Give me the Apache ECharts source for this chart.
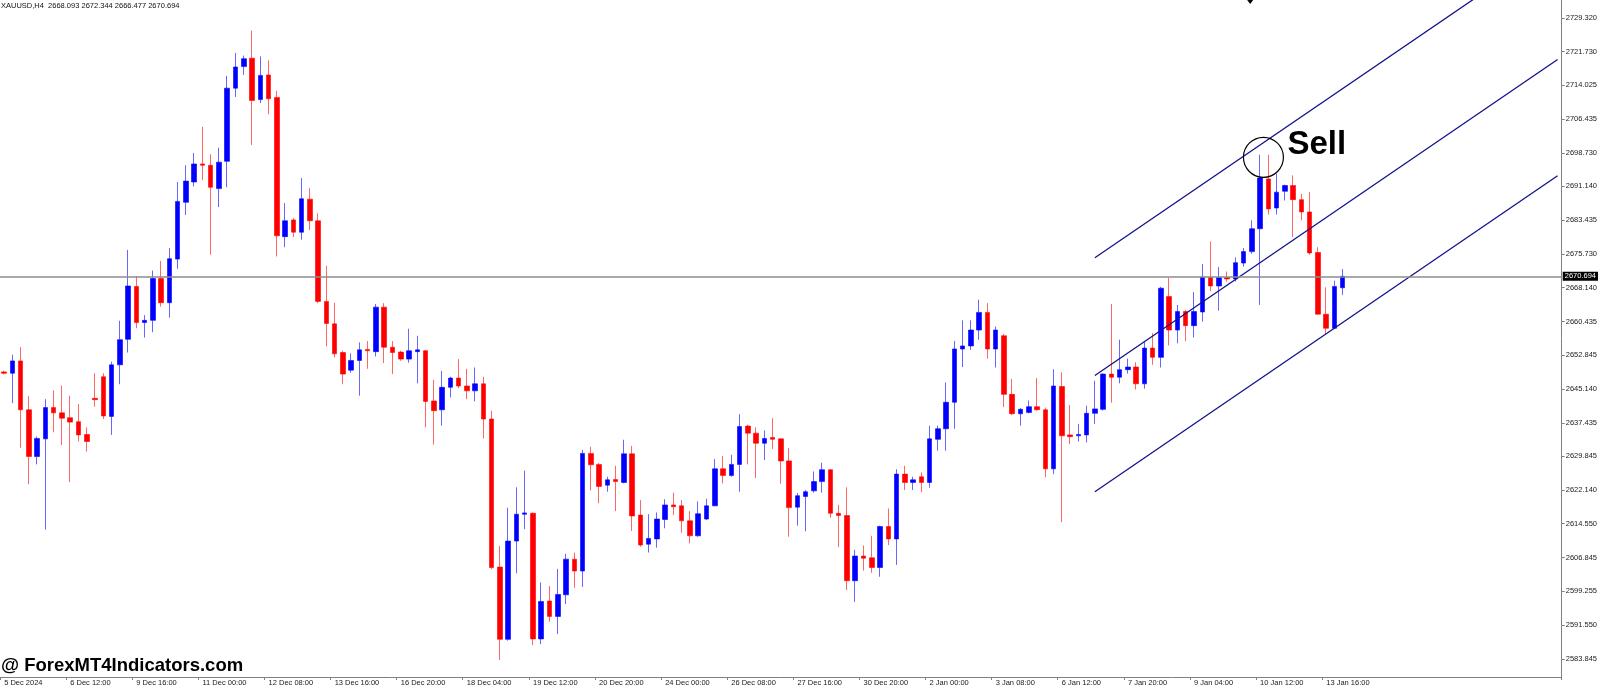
<!DOCTYPE html>
<html>
<head>
<meta charset="utf-8">
<title>XAUUSD,H4</title>
<style>
  html, body { margin: 0; padding: 0; background: #fff; }
  #main { width: 1600px; height: 688px; }
</style>
</head>
<body>
<div id="main"></div>
<script src="https://cdn.jsdelivr.net/npm/echarts@6/dist/echarts.min.js"></script>
<script>
// 4H bars, 5 Dec 2024 -> 14 Jan 2025
var open = [
  2649.0, 2648.7, 2651.5, 2640.4, 2629.8, 2633.8, 2640.9, 2639.7, 2638.6, 2637.7,
  2634.8, 2643.0, 2647.9, 2638.9, 2650.6, 2656.4, 2668.4, 2660.2, 2660.7, 2670.2,
  2664.7, 2674.6, 2687.5, 2692.1, 2696.2, 2695.9, 2690.6, 2696.8, 2713.4, 2718.3,
  2720.2, 2710.8, 2716.4, 2711.3, 2679.7, 2683.5, 2680.7, 2688.2, 2683.3, 2665.0,
  2659.9, 2653.4, 2649.4, 2651.6, 2654.1, 2653.6, 2663.7, 2654.6, 2653.5, 2651.9,
  2653.6, 2653.8, 2642.4, 2640.4, 2645.5, 2647.6, 2645.8, 2644.7, 2646.3, 2638.3,
  2604.7, 2588.3, 2610.6, 2616.7, 2616.9, 2588.4, 2597.0, 2593.5, 2598.4, 2606.5,
  2603.8, 2630.5, 2628.0, 2623.3, 2624.6, 2623.9, 2630.4, 2616.5, 2609.9, 2611.1,
  2615.5, 2618.8, 2618.6, 2615.2, 2611.8, 2615.6, 2618.6, 2627.0, 2625.5, 2628.0,
  2636.7, 2635.1, 2632.8, 2634.1, 2633.8, 2628.8, 2618.3, 2620.7, 2622.0, 2624.1,
  2626.8, 2616.9, 2616.4, 2601.6, 2607.2, 2606.8, 2604.6, 2613.9, 2611.1, 2625.8,
  2623.9, 2625.2, 2623.9, 2633.7, 2636.1, 2642.1, 2654.2, 2654.9, 2658.5, 2662.5,
  2654.2, 2657.2, 2643.9, 2639.5, 2639.8, 2641.1, 2640.4, 2627.0, 2645.7, 2634.7,
  2634.5, 2634.7, 2639.6, 2640.5, 2648.5, 2647.8, 2649.5, 2650.1, 2646.3, 2654.4,
  2652.3, 2666.1, 2658.5, 2662.7, 2659.5, 2662.6, 2670.4, 2668.5, 2670.4, 2670.1,
  2673.7, 2676.3, 2681.5, 2692.8, 2686.2, 2690.0, 2691.3, 2688.1, 2685.3, 2676.1,
  2662.1, 2658.9, 2668.093
];
var high = [
  2649.3, 2652.9, 2654.6, 2643.5, 2634.3, 2642.8, 2644.8, 2645.9, 2643.6, 2641.7,
  2636.4, 2648.7, 2648.7, 2651.3, 2660.6, 2676.7, 2670.8, 2661.9, 2672.0, 2674.2,
  2677.1, 2692.1, 2695.9, 2698.7, 2704.6, 2698.4, 2699.9, 2716.2, 2721.4, 2720.8,
  2726.5, 2720.6, 2719.7, 2712.8, 2687.3, 2683.9, 2693.0, 2690.7, 2685.0, 2673.1,
  2664.7, 2653.8, 2653.2, 2655.7, 2656.0, 2664.4, 2664.6, 2656.0, 2653.8, 2658.8,
  2657.2, 2654.0, 2647.2, 2649.2, 2647.9, 2651.9, 2649.7, 2650.0, 2647.9, 2640.2,
  2609.5, 2618.2, 2622.8, 2626.6, 2617.1, 2601.2, 2600.4, 2604.3, 2607.7, 2608.0,
  2631.3, 2632.0, 2628.3, 2625.2, 2627.7, 2633.6, 2632.2, 2619.9, 2616.7, 2617.1,
  2620.1, 2621.6, 2619.9, 2617.4, 2619.6, 2620.2, 2629.2, 2629.9, 2630.2, 2639.4,
  2637.0, 2636.4, 2635.7, 2638.5, 2633.9, 2631.7, 2621.5, 2622.2, 2626.4, 2628.4,
  2626.9, 2618.8, 2622.8, 2608.6, 2609.6, 2611.8, 2614.1, 2618.0, 2626.9, 2627.7,
  2625.2, 2626.2, 2636.8, 2636.8, 2646.6, 2656.0, 2660.7, 2660.7, 2665.4, 2664.6,
  2659.3, 2657.6, 2647.4, 2640.8, 2642.5, 2647.6, 2640.9, 2649.6, 2648.9, 2641.5,
  2637.2, 2641.3, 2647.0, 2648.7, 2664.4, 2656.3, 2652.0, 2651.2, 2655.9, 2657.8,
  2668.3, 2670.3, 2664.2, 2663.1, 2667.1, 2673.5, 2678.6, 2672.8, 2671.8, 2675.0,
  2677.1, 2683.4, 2698.3, 2698.3, 2694.0, 2691.5, 2693.6, 2689.4, 2689.8, 2677.3,
  2668.2, 2669.7, 2672.344
];
var low = [
  2648.4, 2641.9, 2631.8, 2623.5, 2628.0, 2613.2, 2635.3, 2632.4, 2624.0, 2633.2,
  2630.9, 2641.1, 2638.3, 2634.7, 2646.2, 2653.4, 2658.9, 2656.8, 2658.0, 2663.8,
  2661.3, 2672.4, 2684.6, 2691.1, 2692.5, 2675.6, 2686.4, 2690.9, 2711.4, 2716.4,
  2700.5, 2710.0, 2707.5, 2675.2, 2677.3, 2679.6, 2679.0, 2681.2, 2664.6, 2654.8,
  2652.3, 2646.2, 2648.8, 2643.6, 2649.7, 2652.5, 2651.0, 2648.5, 2651.5, 2651.1,
  2646.4, 2636.4, 2632.5, 2636.8, 2643.2, 2645.3, 2642.8, 2642.3, 2633.9, 2604.2,
  2583.6, 2588.0, 2603.3, 2613.3, 2587.0, 2587.2, 2592.3, 2589.5, 2596.3, 2600.0,
  2600.2, 2622.1, 2619.2, 2621.8, 2617.4, 2623.7, 2612.9, 2609.3, 2608.0, 2609.1,
  2613.5, 2616.5, 2612.5, 2610.1, 2611.6, 2615.4, 2618.5, 2623.7, 2625.2, 2621.8,
  2628.0, 2624.9, 2629.0, 2631.5, 2623.6, 2611.6, 2614.1, 2612.8, 2621.6, 2621.6,
  2615.9, 2609.2, 2599.5, 2596.8, 2603.9, 2603.4, 2602.5, 2609.7, 2605.2, 2622.2,
  2622.2, 2621.7, 2622.7, 2631.1, 2631.1, 2636.1, 2650.1, 2654.0, 2656.3, 2652.0,
  2650.0, 2641.0, 2639.2, 2636.8, 2639.6, 2640.2, 2625.1, 2625.8, 2614.9, 2632.6,
  2633.2, 2633.0, 2637.2, 2640.2, 2642.0, 2646.4, 2648.6, 2645.0, 2645.2, 2650.6,
  2650.0, 2655.0, 2655.5, 2656.0, 2656.8, 2660.4, 2667.3, 2662.9, 2669.5, 2669.5,
  2672.9, 2675.8, 2664.2, 2684.7, 2684.7, 2687.9, 2679.6, 2683.4, 2675.6, 2662.0,
  2657.4, 2658.7, 2666.477
];
var close = [
  2648.7, 2651.5, 2640.4, 2629.8, 2633.9, 2640.9, 2639.7, 2638.5, 2637.6, 2634.7,
  2633.2, 2642.7, 2639.0, 2650.6, 2656.3, 2668.5, 2660.2, 2660.7, 2670.2, 2664.7,
  2674.7, 2687.7, 2692.3, 2696.2, 2695.9, 2690.9, 2696.6, 2713.4, 2718.2, 2720.1,
  2710.6, 2716.3, 2711.0, 2679.9, 2683.3, 2680.7, 2688.3, 2683.3, 2665.0, 2660.0,
  2653.1, 2648.5, 2651.6, 2654.0, 2653.8, 2663.7, 2654.6, 2653.4, 2651.9, 2653.8,
  2654.0, 2642.3, 2640.2, 2645.5, 2647.6, 2645.8, 2644.7, 2646.3, 2638.3, 2604.6,
  2588.3, 2610.6, 2616.7, 2617.0, 2588.4, 2596.9, 2593.5, 2598.5, 2606.5, 2603.8,
  2630.5, 2627.9, 2623.0, 2624.5, 2624.1, 2630.4, 2616.3, 2609.7, 2611.2, 2615.6,
  2618.8, 2618.4, 2615.2, 2611.8, 2616.8, 2618.6, 2627.0, 2625.5, 2628.0, 2636.6,
  2635.1, 2632.8, 2633.9, 2633.7, 2628.8, 2618.2, 2620.9, 2621.8, 2624.1, 2626.8,
  2616.9, 2616.4, 2601.6, 2607.2, 2606.7, 2604.6, 2613.9, 2611.1, 2625.8, 2623.9,
  2624.5, 2623.9, 2633.8, 2636.1, 2642.1, 2654.2, 2654.9, 2658.5, 2662.5, 2654.2,
  2658.5, 2643.9, 2639.5, 2640.5, 2641.1, 2640.4, 2627.0, 2645.8, 2634.5, 2634.3,
  2634.8, 2639.6, 2640.6, 2648.5, 2647.8, 2649.5, 2650.1, 2646.3, 2654.4, 2652.3,
  2668.0, 2658.5, 2662.7, 2659.5, 2662.7, 2670.5, 2668.5, 2670.4, 2670.1, 2673.8,
  2676.3, 2681.5, 2693.0, 2686.0, 2689.8, 2691.3, 2688.1, 2685.3, 2676.0, 2662.1,
  2658.9, 2668.4, 2670.694
];

// time scale labels (bar index -> text)
var tickBars = [0, 8, 16, 24, 32, 40, 48, 56, 64, 72, 80, 88, 96, 104, 112, 120, 128, 136, 144, 152, 160];
var tickLabels = ['5 Dec 2024', '6 Dec 12:00', '9 Dec 16:00', '11 Dec 00:00', '12 Dec 08:00',
  '13 Dec 16:00', '16 Dec 20:00', '18 Dec 04:00', '19 Dec 12:00', '20 Dec 20:00',
  '24 Dec 00:00', '26 Dec 08:00', '27 Dec 16:00', '30 Dec 20:00', '2 Jan 00:00',
  '3 Jan 08:00', '6 Jan 12:00', '7 Jan 20:00', '9 Jan 04:00', '10 Jan 12:00', '13 Jan 16:00'];

// price scale labels
var priceTicks = [2729.320, 2721.730, 2714.025, 2706.435, 2698.730, 2691.140, 2683.435,
  2675.730, 2668.140, 2660.435, 2652.845, 2645.140, 2637.435, 2629.845, 2622.140,
  2614.550, 2606.845, 2599.255, 2591.550, 2583.845];

// price channel: [startBar, startPrice], [endBar, endPrice]
var channelTop = [[132, 2674.9], [188, 2746.6]];
var channelMid = [[132, 2648.2], [188, 2719.9]];
var channelBot = [[132, 2621.8], [188, 2693.5]];

// "Sell" marker
var sellMark = { bar: 152.4, price: 2697.7 };
var arrowBar = 150.8;

var shiftBars = 26;   // empty space on the right (chart shift)
var cats = [];
for (var i = 0; i < open.length + shiftBars; i++) cats.push(String(i));

var candles = open.map(function (o, i) { return [o, close[i], low[i], high[i]]; });
var last = open.length - 1;
var font = 'Liberation Sans, Arial, sans-serif';

function channelSeries(pts) {
  return {
    type: 'line', data: pts, showSymbol: false, silent: true, clip: true,
    lineStyle: { color: '#12128a', width: 1.3 }, z: 3
  };
}

var option = {
  animation: false,
  backgroundColor: '#ffffff',
  grid: { left: -5.5, right: 36, top: 0, bottom: 11 },
  xAxis: {
    type: 'category',
    data: cats,
    boundaryGap: true,
    axisLine: { show: true, lineStyle: { color: '#808080', width: 1 } },
    axisTick: {
      show: true, length: 3, lineStyle: { color: '#808080' },
      interval: function (idx) { return tickBars.indexOf(idx) >= 0; }
    },
    axisLabel: {
      interval: function (idx) { return tickBars.indexOf(idx) >= 0; },
      formatter: function (v) { var k = tickBars.indexOf(Number(v)); return k >= 0 ? tickLabels[k] : ''; },
      align: 'left', margin: 2, fontSize: 7.5, color: '#1a1a1a', fontFamily: font
    },
    splitLine: { show: false }
  },
  yAxis: {
    type: 'value',
    position: 'right',
    min: 2579.75,
    max: 2733.41,
    axisLine: { show: true, lineStyle: { color: '#808080', width: 1 } },
    axisTick: { show: true, length: 3, customValues: priceTicks, lineStyle: { color: '#808080' } },
    axisLabel: {
      customValues: priceTicks, margin: 4, fontSize: 7.5, color: '#1a1a1a', fontFamily: font,
      formatter: function (v) { return v.toFixed(3); }
    },
    splitLine: { show: false }
  },
  series: [
    {
      type: 'candlestick',
      data: candles,
      barWidth: 5,
      itemStyle: {
        color: '#0000ff', borderColor: '#0000ff',
        color0: '#ff0000', borderColor0: '#ff0000',
        borderWidth: 0.6
      },
      z: 2,
      markLine: {
        silent: true,
        symbol: 'none',
        precision: 3,
        data: [{ yAxis: close[last] }],
        lineStyle: { color: '#8c8c8c', width: 1.5, type: 'solid' },
        label: {
          position: 'end', distance: 1,
          formatter: function () { return close[last].toFixed(3); },
          color: '#ffffff', backgroundColor: '#000000',
          padding: [1, 2, 0, 2], fontSize: 7.5, fontFamily: font
        }
      }
    },
    channelSeries(channelTop),
    channelSeries(channelMid),
    channelSeries(channelBot)
  ]
};

var chart = echarts.init(document.getElementById('main'));
chart.setOption(option);

// annotations placed from data coordinates
function px(bar, price) {
  var b = Math.floor(bar);
  var p0 = chart.convertToPixel({ gridIndex: 0 }, [b, price]);
  var p1 = chart.convertToPixel({ gridIndex: 0 }, [b + 1, price]);
  return [p0[0] + (bar - b) * (p1[0] - p0[0]), p0[1]];
}
var c = px(sellMark.bar, sellMark.price);
var a = px(arrowBar, 2700);

chart.setOption({
  graphic: [
    {
      type: 'text', left: 1, top: 2,
      style: {
        text: 'XAUUSD,H4  ' + open[last].toFixed(3) + ' ' + high[last].toFixed(3) + ' ' +
          low[last].toFixed(3) + ' ' + close[last].toFixed(3),
        font: '7.5px ' + font, fill: '#111'
      }
    },
    {
      type: 'circle', shape: { cx: c[0], cy: c[1], r: 20 },
      style: { fill: 'none', stroke: '#000', lineWidth: 1.2 }, z: 10
    },
    {
      type: 'text', x: c[0] + 24, y: c[1] - 12,
      style: { text: 'Sell', font: 'bold 33px ' + font, fill: '#000', verticalAlign: 'middle' }, z: 10
    },
    {
      type: 'polygon', shape: { points: [[a[0] - 3, 0], [a[0] + 3, 0], [a[0], 4]] },
      style: { fill: '#000' }, z: 10
    },
    {
      type: 'text', x: 1, y: 666,
      style: { text: '@ ForexMT4Indicators.com', font: 'bold 18.5px ' + font, fill: '#000', verticalAlign: 'middle' }, z: 10
    }
  ]
});
</script>
</body>
</html>
